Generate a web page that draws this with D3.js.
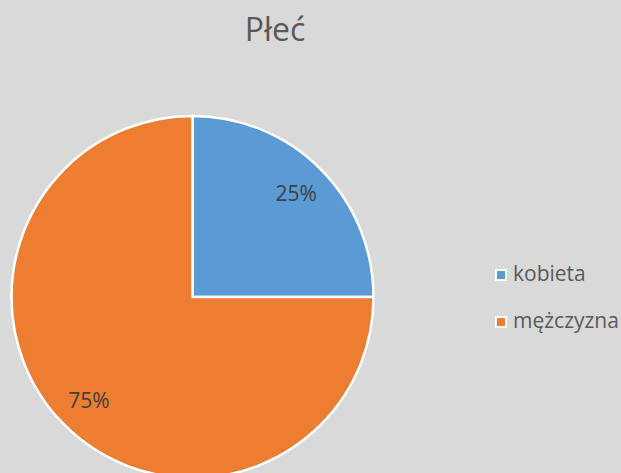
<!DOCTYPE html>
<html>
<head>
<meta charset="utf-8">
<script src="https://d3js.org/d3.v7.min.js"></script>
<style>
  body { margin: 0; background: #d9d9d9; }
  svg { display: block; font-family: "Open Sans", "Noto Sans", sans-serif; }
</style>
</head>
<body>
<svg id="chart"></svg>
<script>
// chart data
var categories = ["kobieta", "mężczyzna"];
var values = [25, 75];
var colors = ["#5b9bd5", "#ed7d31"];
var title = "Płeć";

var width = 621, height = 473;

var svg = d3.select("#chart")
    .attr("width", width)
    .attr("height", height);

svg.append("rect")
    .attr("width", width)
    .attr("height", height)
    .attr("fill", "#d9d9d9");

// title
svg.append("text")
    .attr("x", 275)
    .attr("y", 41)
    .attr("text-anchor", "middle")
    .attr("fill", "#595959")
    .style("font-size", "32px")
    .text(title);

var radius = 181;
var cx = 192.5, cy = 297;

var pie = d3.pie().sort(null);
var arc = d3.arc().innerRadius(0).outerRadius(radius);
var labelArc = d3.arc().innerRadius(radius * 0.81).outerRadius(radius * 0.81);

var total = d3.sum(values);
var data = pie(values);

var g = svg.append("g")
    .attr("transform", "translate(" + cx + "," + cy + ")");

g.selectAll(".slice")
    .data(data)
  .enter().append("path")
    .attr("class", "slice")
    .attr("d", arc)
    .attr("fill", function(d, i) { return colors[i]; })
    .attr("stroke", "#fff")
    .attr("stroke-width", 2.5);

g.selectAll(".label")
    .data(data)
  .enter().append("text")
    .attr("class", "label")
    .attr("transform", function(d) { return "translate(" + labelArc.centroid(d) + ")"; })
    .attr("text-anchor", "middle")
    .attr("dy", "0.35em")
    .attr("fill", "#404040")
    .style("font-size", "21px")
    .text(function(d) { return Math.round(d.value / total * 100) + "%"; });

// legend
var legend = svg.append("g")
    .attr("transform", "translate(496,274)");

var item = legend.selectAll(".item")
    .data(categories)
  .enter().append("g")
    .attr("class", "item")
    .attr("transform", function(d, i) { return "translate(0," + (i * 47) + ")"; });

item.append("rect")
    .attr("x", 0)
    .attr("y", -4)
    .attr("width", 10)
    .attr("height", 10)
    .attr("fill", function(d, i) { return colors[i]; })
    .attr("stroke", "#fff")
    .attr("stroke-width", 2);

item.append("text")
    .attr("x", 17)
    .attr("dy", "0.35em")
    .attr("fill", "#595959")
    .style("font-size", "21px")
    .text(function(d) { return d; });
</script>
</body>
</html>
